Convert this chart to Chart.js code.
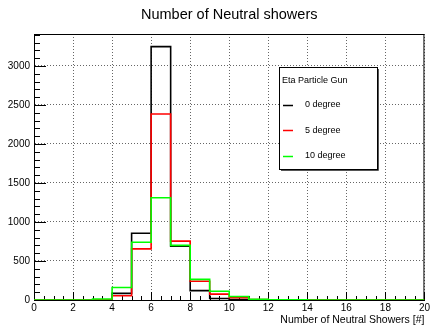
<!DOCTYPE html>
<html>
<head>
<meta charset="utf-8">
<title>Number of Neutral showers</title>
<script src="https://cdn.jsdelivr.net/npm/chart.js@4.4.1/dist/chart.umd.min.js"></script>
<style>
  html, body { margin: 0; padding: 0; background: #fff; }
  #wrap { width: 432px; height: 326px; }
</style>
</head>
<body>
<div id="wrap"><canvas id="histChart"></canvas></div>
<script>
// bin edges of the histogram (number of neutral showers)
const binEdges = [0, 1, 2, 3, 4, 5, 6, 7, 8, 9, 10, 11, 12, 13, 14, 15, 16, 17, 18, 19, 20];

// counts per bin
const deg0  = [0, 0, 0, 2, 85, 855, 3248, 690, 120, 20, 5, 0, 0, 0, 0, 0, 0, 0, 0, 0];
const deg5  = [0, 0, 0, 4, 55, 655, 2385, 755, 240, 75, 28, 6, 2, 0, 0, 0, 0, 0, 0, 0];
const deg10 = [0, 0, 0, 12, 160, 740, 1310, 700, 265, 112, 45, 10, 3, 1, 0, 0, 0, 0, 0, 0];

const seriesLabels = ['0 degree', '5 degree', '10 degree'];
const seriesColors = ['#000000', '#ff0000', '#00ff00'];
const legendTitle = 'Eta Particle Gun';

const xTickValues = [0, 2, 4, 6, 8, 10, 12, 14, 16, 18, 20];
const yTickValues = [0, 500, 1000, 1500, 2000, 2500, 3000];
const yMax = 3410;

const FONT = 'Liberation Sans, Arial, Helvetica, sans-serif';

// turn bin counts into points for a stepped line
// (last edge repeats the last count so the final bin gets its top)
function toSteps(counts) {
    return binEdges.map((x, i) => ({ x: x, y: counts[Math.min(i, counts.length - 1)] }));
}

// ROOT-like frame with inward ticks, plus the boxed legend
const rootDecor = {
    id: 'rootDecor',
    beforeDatasetsDraw(chart) {
        const { ctx, chartArea: a, scales: { x, y } } = chart;
        ctx.save();
        ctx.strokeStyle = '#000';
        ctx.lineWidth = 1;
        ctx.strokeRect(a.left + 0.5, a.top + 0.5, a.width - 1, a.height);

        ctx.beginPath();
        // x ticks: major every 2, minor every 0.5
        for (let v = x.min; v <= x.max + 1e-9; v += 0.5) {
            const px = Math.round(x.getPixelForValue(v)) + 0.5;
            const len = (Math.abs(v % 2) < 1e-9) ? 8 : 4;
            ctx.moveTo(px, a.bottom);
            ctx.lineTo(px, a.bottom - len);
        }
        // y ticks: major every 500, minor every 100
        for (let v = y.min; v <= y.max; v += 100) {
            const py = Math.round(y.getPixelForValue(v)) + 0.5;
            const len = (v % 500 === 0) ? 12 : 6;
            ctx.moveTo(a.left, py);
            ctx.lineTo(a.left + len, py);
        }
        ctx.stroke();
        ctx.restore();
    },
    afterDatasetsDraw(chart) {
        const { ctx, chartArea: a } = chart;
        const bx = a.left + 245, by = a.top + 33, bw = 98, bh = 102;
        ctx.save();
        ctx.fillStyle = '#fff';
        ctx.fillRect(bx, by, bw, bh);
        ctx.strokeStyle = '#000';
        ctx.lineWidth = 1;
        ctx.strokeRect(bx + 0.5, by + 0.5, bw, bh);
        ctx.strokeStyle = '#555';
        ctx.beginPath();
        ctx.moveTo(bx + bw + 1.5, by + 2);
        ctx.lineTo(bx + bw + 1.5, by + bh + 1.5);
        ctx.lineTo(bx + 2, by + bh + 1.5);
        ctx.stroke();

        ctx.font = '9px ' + FONT;
        ctx.fillStyle = '#000';
        ctx.textBaseline = 'middle';
        ctx.textAlign = 'left';
        ctx.fillText(legendTitle, bx + 3, by + 14);

        chart.data.datasets.forEach((ds, i) => {
            const ly = by + 37.5 + i * 25.7;
            ctx.strokeStyle = ds.borderColor;
            ctx.lineWidth = 1.5;
            ctx.beginPath();
            ctx.moveTo(bx + 4, Math.round(ly) + 0.5);
            ctx.lineTo(bx + 14, Math.round(ly) + 0.5);
            ctx.stroke();
            ctx.fillStyle = '#000';
            ctx.fillText(ds.label, bx + 26, ly);
        });
        ctx.restore();
    }
};

const allSeries = [deg0, deg5, deg10];

new Chart(document.getElementById('histChart'), {
    type: 'line',
    data: {
        datasets: allSeries.map((counts, i) => ({
            label: seriesLabels[i],
            data: toSteps(counts),
            borderColor: seriesColors[i],
            backgroundColor: seriesColors[i],
            borderWidth: 1.6,
            stepped: 'before',
            pointRadius: 0,
            fill: false,
            order: allSeries.length - i
        }))
    },
    options: {
        animation: false,
        responsive: true,
        maintainAspectRatio: false,
        layout: { padding: { left: 0, right: 5, top: 0, bottom: 0 } },
        plugins: {
            legend: { display: false },
            tooltip: { enabled: false },
            title: {
                display: true,
                text: 'Number of Neutral showers',
                fullSize: false,
                color: '#000',
                font: { family: FONT, size: 14.5, weight: 'normal' },
                padding: { top: 6, bottom: 10.6 }
            }
        },
        scales: {
            x: {
                type: 'linear',
                min: binEdges[0],
                max: binEdges[binEdges.length - 1],
                afterBuildTicks(scale) {
                    scale.ticks = xTickValues.map(v => ({ value: v }));
                },
                ticks: {
                    color: '#000',
                    padding: 2,
                    maxRotation: 0,
                    font: { family: FONT, size: 10 },
                    callback: v => String(v)
                },
                grid: { color: 'rgba(0,0,0,0.6)', drawTicks: false },
                border: { color: '#000', width: 1, dash: [1, 2] },
                title: {
                    display: true,
                    text: 'Number of Neutral Showers [#]',
                    align: 'end',
                    color: '#000',
                    font: { family: FONT, size: 10.5 },
                    padding: { top: 0, bottom: 0 }
                },
                afterFit(scale) { scale.height = 26; }
            },
            y: {
                min: 0,
                max: yMax,
                afterBuildTicks(scale) {
                    scale.ticks = yTickValues.map(v => ({ value: v }));
                },
                ticks: {
                    color: '#000',
                    padding: 4,
                    font: { family: FONT, size: 10 },
                    callback: v => String(v)
                },
                grid: { color: 'rgba(0,0,0,0.6)', drawTicks: false },
                border: { color: '#000', width: 1, dash: [1, 2] },
                afterFit(scale) { scale.width = 34; }
            }
        }
    },
    plugins: [rootDecor]
});
</script>
</body>
</html>
